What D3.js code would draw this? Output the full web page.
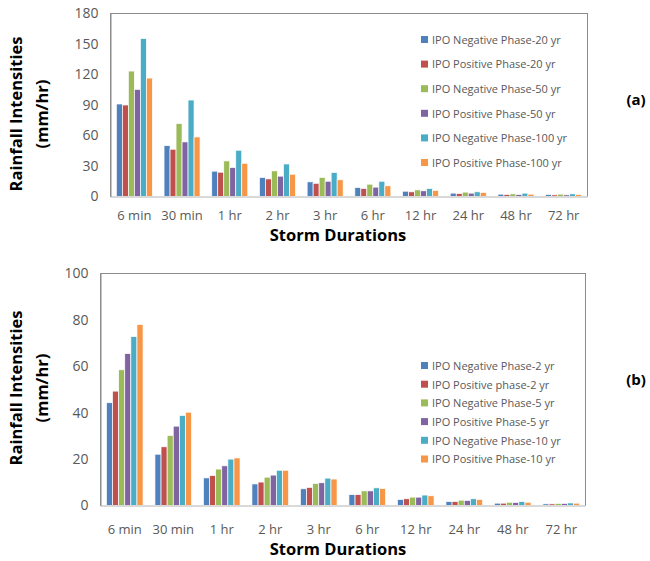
<!DOCTYPE html>
<html><head><meta charset="utf-8">
<script src="https://cdn.jsdelivr.net/npm/d3@7"></script>
<style>body{margin:0;background:#fff}svg{display:block}</style>
</head><body><svg id="c" width="650" height="561"></svg>
<script>
const categories = ["6 min","30 min","1 hr","2 hr","3 hr","6 hr","12 hr","24 hr","48 hr","72 hr"];
const colors = ["#4F81BD","#C0504D","#9BBB59","#8064A2","#4BACC6","#F79646"];

const seriesA = ["IPO Negative Phase-20 yr","IPO Positive Phase-20 yr","IPO Negative Phase-50 yr","IPO Positive Phase-50 yr","IPO Negative Phase-100 yr","IPO Positive Phase-100 yr"];
const valuesA = [
  [91, 50, 24.9, 18.7, 14.4, 8.8, 5.2, 3.3, 2.3, 2.0],
  [90, 46.5, 23.9, 17.3, 13.0, 7.9, 4.6, 2.9, 2.0, 1.6],
  [123.4, 71.7, 35, 25.2, 18.8, 12.1, 6.5, 4.3, 2.6, 2.3],
  [105.4, 53.7, 28.5, 20, 15, 9.2, 5.6, 3.3, 2.0, 1.6],
  [155.4, 94.9, 45.5, 32, 23.6, 15, 7.9, 4.6, 3.3, 2.6],
  [116.5, 58.6, 32.7, 21.9, 16.4, 10.5, 5.9, 3.9, 2.3, 2.0]
];
const ticksA = [0,30,60,90,120,150,180];

const seriesB = ["IPO Negative Phase-2 yr","IPO Positive phase-2 yr","IPO Negative Phase-5 yr","IPO Positive Phase-5 yr","IPO Negative Phase-10 yr","IPO Positive Phase-10 yr"];
const valuesB = [
  [44.3, 22.1, 11.9, 9.3, 7.2, 4.7, 2.6, 1.7, 1.0, 0.7],
  [49.3, 25.3, 12.9, 10.1, 7.8, 4.7, 2.9, 1.7, 1.0, 0.7],
  [58.5, 30.2, 15.7, 12.2, 9.5, 6.3, 3.6, 2.3, 1.4, 0.9],
  [65.5, 34.2, 17.1, 13.1, 9.8, 6.3, 3.6, 2.2, 1.3, 0.9],
  [72.8, 38.8, 20.0, 15.2, 11.8, 7.6, 4.5, 2.9, 1.7, 1.1],
  [78.0, 40.2, 20.5, 15.2, 11.4, 7.3, 4.2, 2.6, 1.4, 1.0]
];
const ticksB = [0,20,40,60,80,100];

const svg = d3.select("#c");
const FONT = "'Open Sans', 'Noto Sans', sans-serif";

function panel(cfg) {
  const g = svg.append("g");
  const x = d3.scaleBand().domain(categories).range([cfg.left, cfg.right]).paddingInner(0.245).paddingOuter(0.1225);
  const xs = d3.scaleBand().domain(d3.range(6)).range([0, x.bandwidth()]);
  const y = d3.scaleLinear().domain([0, cfg.max]).range([cfg.bottom, cfg.top]);

  g.append("rect").attr("x", cfg.left).attr("y", cfg.top).attr("width", cfg.right - cfg.left).attr("height", cfg.bottom - cfg.top)
    .attr("fill", "none").attr("stroke", "#8c8c8c").attr("stroke-width", 1);

  cfg.values.forEach((vals, si) => {
    g.append("g").selectAll("rect").data(vals).join("rect")
      .attr("x", (d, i) => x(categories[i]) + xs(si))
      .attr("y", d => y(d))
      .attr("width", xs.bandwidth())
      .attr("height", d => cfg.bottom - y(d))
      .attr("fill", colors[si])
      .attr("stroke", "#fff").attr("stroke-width", 0.7);
  });

  g.append("line").attr("x1", cfg.left).attr("x2", cfg.right).attr("y1", cfg.bottom + 0.5).attr("y2", cfg.bottom + 0.5)
    .attr("stroke", "#d9d9d9").attr("stroke-width", 2);

  const ya = g.append("g").attr("transform", `translate(${cfg.left},0)`)
    .call(d3.axisLeft(y).tickValues(cfg.ticks).tickSize(0).tickPadding(cfg.tickPad));
  ya.select(".domain").attr("stroke", "#8c8c8c");
  ya.selectAll("text").attr("font-family", FONT).attr("font-size", 14).attr("fill", "#595959");

  const xa = g.append("g").attr("transform", `translate(0,${cfg.bottom})`)
    .call(d3.axisBottom(x).tickSize(0).tickPadding(cfg.xPad));
  xa.select(".domain").remove();
  xa.selectAll("text").attr("font-family", FONT).attr("font-size", 13).attr("fill", "#595959");

  g.append("text").attr("x", cfg.xTitleX).attr("y", cfg.xTitleY).attr("text-anchor", "middle")
    .attr("font-family", FONT).attr("font-weight", "bold").attr("font-size", 16.5).attr("fill", "#000").text("Storm Durations");
  g.append("text").attr("transform", `translate(22,${cfg.yTitleY}) rotate(-90)`).attr("text-anchor", "middle")
    .attr("font-family", FONT).attr("font-weight", "bold").attr("font-size", 16.5).attr("fill", "#000").text("Rainfall Intensities");
  g.append("text").attr("transform", `translate(48,${cfg.yTitleY}) rotate(-90)`).attr("text-anchor", "middle")
    .attr("font-family", FONT).attr("font-weight", "bold").attr("font-size", 16.5).attr("fill", "#000").text("(mm/hr)");

  const lg = g.append("g");
  cfg.series.forEach((s, i) => {
    const ly = cfg.legY + i * cfg.legStep;
    lg.append("rect").attr("x", 421).attr("y", ly - 4).attr("width", 7).attr("height", 7).attr("fill", colors[i]);
    lg.append("text").attr("x", 432).attr("y", ly).attr("dy", "0.35em")
      .attr("font-family", FONT).attr("font-size", 11).attr("fill", "#595959").text(s);
  });

  g.append("text").attr("x", 636).attr("y", cfg.labY).attr("dy", "0.35em").attr("text-anchor", "middle")
    .attr("font-family", FONT).attr("font-weight", "bold").attr("font-size", 15).attr("fill", "#000").text(cfg.label);
}

panel({left: 110.5, right: 587.5, top: 13.5, bottom: 196.5, max: 180, ticks: ticksA, values: valuesA, series: seriesA,
  tickPad: 12, xPad: 14, xTitleX: 338, xTitleY: 241, yTitleY: 114, legY: 40, legStep: 24.6, label: "(a)", labY: 100});
panel({left: 100.5, right: 585.5, top: 273.5, bottom: 505.5, max: 100, ticks: ticksB, values: valuesB, series: seriesB,
  tickPad: 12, xPad: 19, xTitleX: 338, xTitleY: 555, yTitleY: 388, legY: 366, legStep: 18.7, label: "(b)", labY: 380});
</script></body></html>
